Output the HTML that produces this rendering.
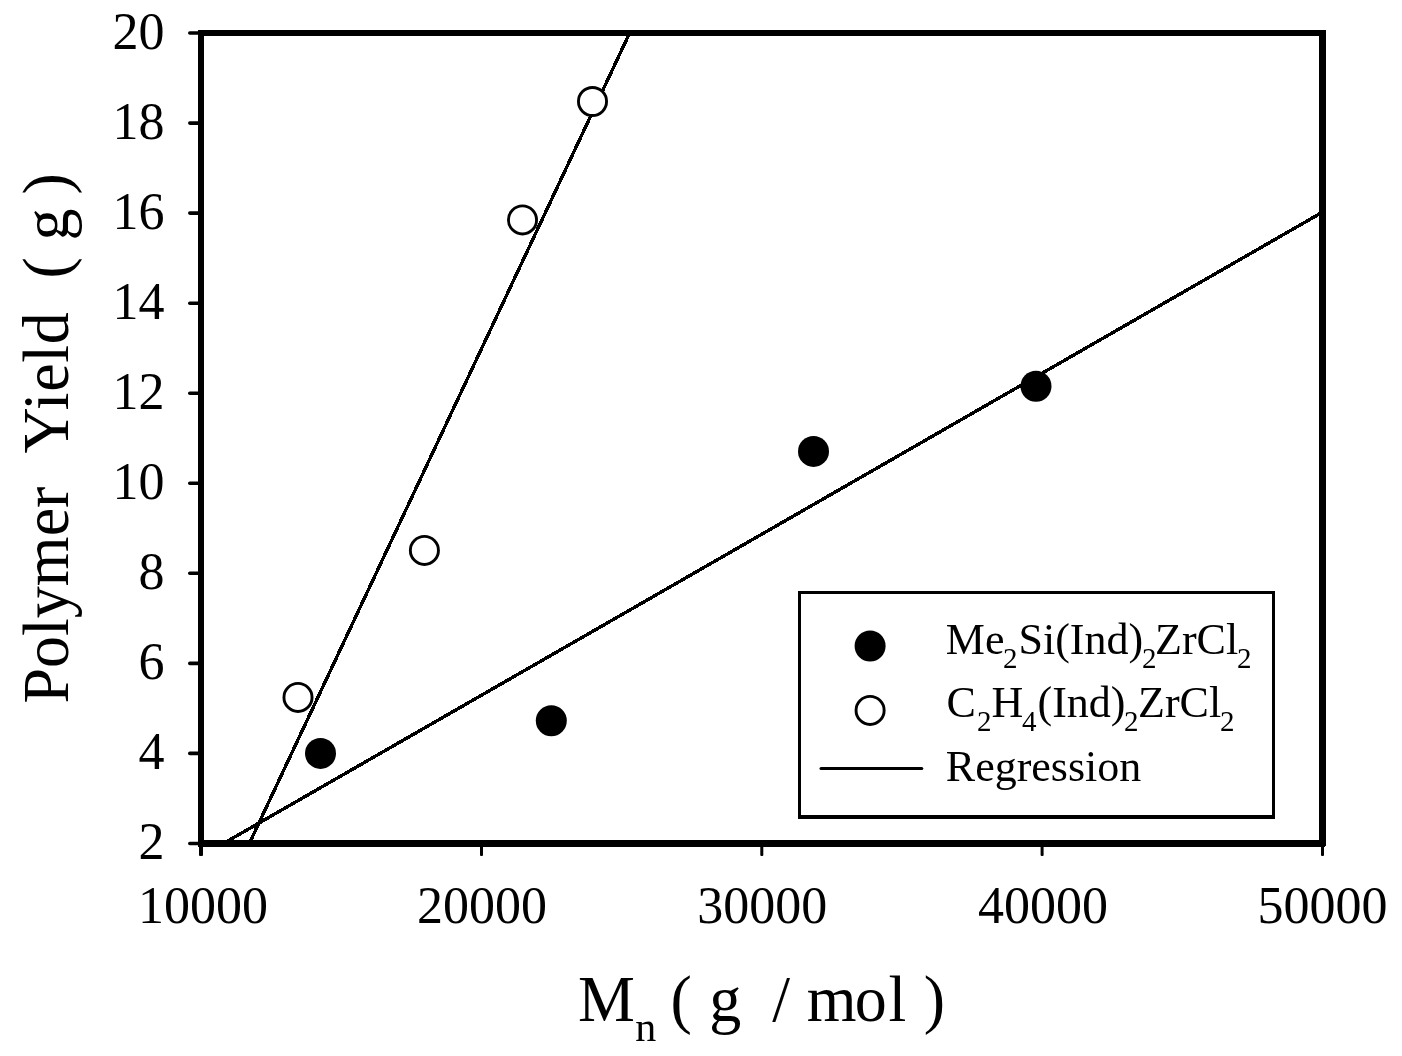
<!DOCTYPE html>
<html lang="en">
<head>
<meta charset="utf-8">
<title>Polymer Yield vs Mn</title>
<style>
  html, body { margin: 0; padding: 0; background: #ffffff; }
  body { width: 1402px; height: 1056px; overflow: hidden; }
  svg { display: block; }
  text { font-family: "Liberation Serif", "Times New Roman", Times, serif; fill: #000; }
  .tick { font-size: 52px; }
  .title { font-size: 65.5px; }
  .leg { font-size: 44px; }
  .sub { font-size: 29px; }
  .subt { font-size: 43px; }
</style>
</head>
<body>
<svg width="1402" height="1056" viewBox="0 0 1402 1056">
  <rect x="0" y="0" width="1402" height="1056" fill="#ffffff"/>

  <!-- regression lines (clipped to plot area) -->
  <defs>
    <clipPath id="plotclip"><rect x="201" y="33" width="1120" height="810"/></clipPath>
  </defs>
  <g clip-path="url(#plotclip)" stroke="#000" stroke-width="3.4" fill="none" shape-rendering="crispEdges">
    <line x1="219" y1="846" x2="1325" y2="210.7"/>
    <line x1="248.6" y1="845" x2="632" y2="28"/>
  </g>

  <!-- plot frame -->
  <g fill="#000" shape-rendering="crispEdges">
    <rect x="198" y="30" width="1128" height="6"/>
    <rect x="198" y="30" width="6" height="817"/>
    <rect x="1319" y="30" width="7" height="816"/>
    <rect x="198" y="840" width="1127" height="7"/>
  </g>

  <!-- y ticks -->
  <g stroke="#000" stroke-width="3.6" stroke-linecap="round">
    <line x1="189.8" y1="33.0" x2="199" y2="33.0"/>
    <line x1="189.8" y1="123.1" x2="199" y2="123.1"/>
    <line x1="189.8" y1="213.1" x2="199" y2="213.1"/>
    <line x1="189.8" y1="303.2" x2="199" y2="303.2"/>
    <line x1="189.8" y1="393.2" x2="199" y2="393.2"/>
    <line x1="189.8" y1="483.3" x2="199" y2="483.3"/>
    <line x1="189.8" y1="573.3" x2="199" y2="573.3"/>
    <line x1="189.8" y1="663.4" x2="199" y2="663.4"/>
    <line x1="189.8" y1="753.4" x2="199" y2="753.4"/>
    <line x1="189.8" y1="843.5" x2="199" y2="843.5"/>
  </g>
  <!-- x ticks -->
  <g fill="#000">
    <rect x="199" y="846" width="4" height="10" rx="1"/>
    <rect x="480" y="846" width="3" height="10" rx="1"/>
    <rect x="760.3" y="846" width="3" height="10" rx="1"/>
    <rect x="1040.6" y="846" width="3" height="10" rx="1"/>
    <rect x="1321" y="846" width="3" height="10" rx="1"/>
  </g>

  <!-- y tick labels -->
  <g class="tick" text-anchor="end">
    <text x="164.5" y="49">20</text>
    <text x="164.5" y="139.1">18</text>
    <text x="164.5" y="229.1">16</text>
    <text x="164.5" y="319.2">14</text>
    <text x="164.5" y="409.2">12</text>
    <text x="164.5" y="499.3">10</text>
    <text x="164.5" y="589.3">8</text>
    <text x="164.5" y="679.4">6</text>
    <text x="164.5" y="769.4">4</text>
    <text x="164.5" y="858.5">2</text>
  </g>
  <!-- x tick labels -->
  <g class="tick" text-anchor="middle">
    <text x="203" y="923">10000</text>
    <text x="482" y="923">20000</text>
    <text x="762.3" y="923">30000</text>
    <text x="1043" y="923">40000</text>
    <text x="1322.6" y="923">50000</text>
  </g>

  <!-- data: open circles -->
  <g fill="#fff" stroke="#000" stroke-width="2.9">
    <circle cx="298" cy="697.4" r="14.05"/>
    <circle cx="424.4" cy="550.4" r="14.05"/>
    <circle cx="522.5" cy="219.9" r="14.05"/>
    <circle cx="592.5" cy="101.5" r="14.05"/>
  </g>
  <!-- data: filled circles -->
  <g fill="#000">
    <circle cx="320.5" cy="753.4" r="15.5"/>
    <circle cx="551.3" cy="720.8" r="15.5"/>
    <circle cx="813.5" cy="451.4" r="15.5"/>
    <circle cx="1036" cy="386.2" r="15.5"/>
  </g>

  <!-- legend -->
  <rect x="798" y="591" width="477" height="228" fill="#000" shape-rendering="crispEdges"/>
  <rect x="801" y="594" width="471" height="221" fill="#fff" shape-rendering="crispEdges"/>
  <circle cx="870.1" cy="646" r="15.5" fill="#000"/>
  <circle cx="870.1" cy="710.4" r="14.05" fill="#fff" stroke="#000" stroke-width="2.9"/>
  <line x1="821" y1="768.4" x2="921.8" y2="768.4" stroke="#000" stroke-width="3" stroke-linecap="round"/>

  <g class="leg">
    <text y="653.5"><tspan x="945.8">Me</tspan><tspan class="sub" x="1003" dy="14">2</tspan><tspan x="1018.5" dy="-14">Si(Ind)</tspan><tspan class="sub" x="1142" dy="14">2</tspan><tspan x="1155" dy="-14">ZrCl</tspan><tspan class="sub" x="1237" dy="14">2</tspan></text>
    <text y="717.3"><tspan x="946.5">C</tspan><tspan class="sub" x="977" dy="14">2</tspan><tspan x="991.5" dy="-14">H</tspan><tspan class="sub" x="1022" dy="14">4</tspan><tspan x="1037.5" dy="-14">(Ind)</tspan><tspan class="sub" x="1124" dy="14">2</tspan><tspan x="1138" dy="-14">ZrCl</tspan><tspan class="sub" x="1220" dy="14">2</tspan></text>
    <text x="945.8" y="781.2">Regression</text>
  </g>

  <!-- x axis title -->
  <text class="title" transform="translate(578,1021) scale(0.977,1)"><tspan x="0">M</tspan><tspan class="subt" x="58.55" dy="20">n</tspan> <tspan x="94.78" dy="-20">(</tspan> <tspan x="134.39">g</tspan> <tspan x="198.77">/</tspan> <tspan x="234.19 283.32 317.91">mol</tspan> <tspan x="353.94">)</tspan></text>

  <!-- y axis title -->
  <g transform="translate(68.2,703.5) rotate(-90)">
    <text class="title" transform="scale(0.977,1)"><tspan x="0">Polymer</tspan> <tspan x="255.9" letter-spacing="0.65">Yield</tspan> <tspan x="435.1">(</tspan> <tspan x="473.9">g</tspan> <tspan x="521">)</tspan></text>
  </g>
</svg>
</body>
</html>
